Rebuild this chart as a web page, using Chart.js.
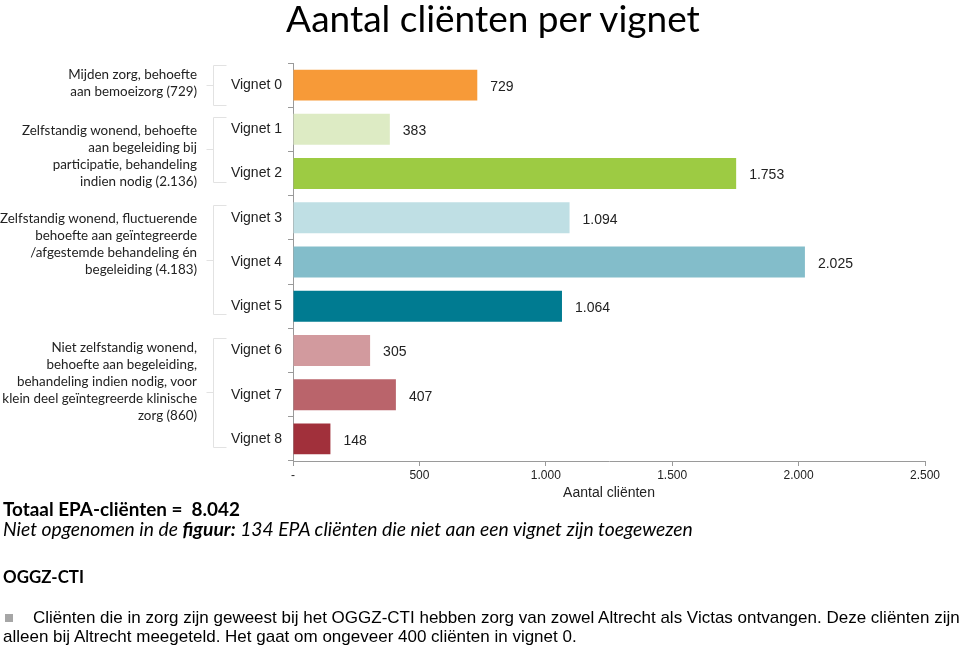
<!DOCTYPE html>
<html>
<head>
<meta charset="utf-8">
<script src="https://cdn.jsdelivr.net/npm/chart.js@4/dist/chart.umd.min.js"></script>
<style>
  html, body { margin: 0; padding: 0; background: #fff; }
  body { width: 960px; height: 648px; position: relative; overflow: hidden; font-family: "Liberation Sans", Arial, sans-serif; color: #000; }
  #wrap { position: absolute; left: 0; top: 0; width: 960px; height: 648px; }
  #title { position: absolute; left: 0; width: 986px; top: -5px; text-align: center; font-family: Lato, sans-serif; font-size: 37px; color: #000; white-space: nowrap; }
  .grp { position: absolute; right: 763px; text-align: right; font-family: Lato, sans-serif; font-size: 13.4px; line-height: 17px; color: #222; white-space: nowrap; }
  .note { position: absolute; left: 3px; font-family: Lato, sans-serif; white-space: nowrap; color: #000; line-height: 24px; }
  .bul { position: absolute; left: 3px; font-family: "Liberation Sans", Arial, sans-serif; font-size: 17px; line-height: 19px; white-space: nowrap; color: #000; }
  .sq { display: inline-block; width: 8px; height: 8px; background: #a6a6a6; margin: 0 20px 1px 2px; }
</style>
</head>
<body>
<div id="wrap"><canvas id="c" width="960" height="648"></canvas></div>
<div id="title">Aantal cliënten per vignet</div>

<div class="grp" style="top:66px">Mijden zorg, behoefte<br>aan bemoeizorg (729)</div>
<div class="grp" style="top:122px">Zelfstandig wonend, behoefte<br>aan begeleiding bij<br>participatie, behandeling<br>indien nodig (2.136)</div>
<div class="grp" style="top:210px">Zelfstandig wonend, fluctuerende<br>behoefte aan geïntegreerde<br>/afgestemde behandeling én<br>begeleiding (4.183)</div>
<div class="grp" style="top:339px">Niet zelfstandig wonend,<br>behoefte aan begeleiding,<br>behandeling indien nodig, voor<br>klein deel geïntegreerde klinische<br>zorg (860)</div>

<div class="note" style="top:497px;font-weight:bold;font-size:18.9px">Totaal EPA-cliënten = &nbsp;8.042</div>
<div class="note" style="top:517px;font-style:italic;font-size:19.3px">Niet opgenomen in de <b>figuur:</b> 134 EPA cliënten die niet aan een vignet zijn toegewezen</div>
<div class="note" style="top:565px;font-weight:bold;font-size:16.9px">OGGZ-CTI</div>
<div class="bul" style="top:608px"><span class="sq"></span>Cliënten die in zorg zijn geweest bij het OGGZ-CTI hebben zorg van zowel Altrecht als Victas ontvangen. Deze cliënten zijn<br>alleen bij Altrecht meegeteld. Het gaat om ongeveer 400 cliënten in vignet 0.</div>

<script>
// ---- data ----
const categories = ['Vignet 0','Vignet 1','Vignet 2','Vignet 3','Vignet 4','Vignet 5','Vignet 6','Vignet 7','Vignet 8'];
const clients = [729, 383, 1753, 1094, 2025, 1064, 305, 407, 148];
const barColors = ['#F79A38','#DDEBC4','#9DCB43','#BFDFE4','#83BDCA','#007B91','#D29A9E','#BA646B','#A1303B'];
const xTicks = [0, 500, 1000, 1500, 2000, 2500];
// groups of vignets (first index, last index)
const groups = [[0,0],[1,2],[3,5],[6,8]];

function fmt(v) {
  if (v === 0) return '-';
  return String(v).replace(/\B(?=(\d{3})+(?!\d))/g, '.');
}

const valueLabels = {
  id: 'valueLabels',
  afterDatasetsDraw(chart) {
    const ctx = chart.ctx;
    const meta = chart.getDatasetMeta(0);
    ctx.save();
    ctx.font = '14px "Liberation Sans", Arial, sans-serif';
    ctx.fillStyle = '#222';
    ctx.textAlign = 'left';
    ctx.textBaseline = 'middle';
    meta.data.forEach((bar, i) => {
      ctx.fillText(fmt(clients[i]), bar.x + 13, bar.y + 2);
    });
    ctx.restore();
  }
};

const brackets = {
  id: 'brackets',
  afterDraw(chart) {
    const ctx = chart.ctx;
    const y = chart.scales.y;
    const band = (y.getPixelForValue(1) - y.getPixelForValue(0));
    ctx.save();
    ctx.strokeStyle = '#e2e2e2';
    ctx.lineWidth = 1;
    groups.forEach(([a, b]) => {
      let top, bot;
      if (a === b) { top = y.getPixelForValue(a) - band * 0.45; bot = y.getPixelForValue(b) + band * 0.45; }
      else { top = y.getPixelForValue(a) - band * 0.28; bot = y.getPixelForValue(b) + band * 0.18; }
      const x = 213.5;
      const mid = (top + bot) / 2;
      ctx.beginPath();
      ctx.moveTo(x + 13, Math.round(top) + 0.5);
      ctx.lineTo(x, Math.round(top) + 0.5);
      ctx.lineTo(x, Math.round(bot) + 0.5);
      ctx.lineTo(x + 13, Math.round(bot) + 0.5);
      ctx.moveTo(x, Math.round(mid) + 0.5);
      ctx.lineTo(x - 7, Math.round(mid) + 0.5);
      ctx.stroke();
    });
    ctx.restore();
  }
};

new Chart(document.getElementById('c'), {
  type: 'bar',
  data: {
    labels: categories,
    datasets: [{
      data: clients,
      backgroundColor: barColors,
      borderWidth: 0,
      barPercentage: 0.7,
      categoryPercentage: 1.0
    }]
  },
  options: {
    indexAxis: 'y',
    responsive: false,
    animation: false,
    devicePixelRatio: 1,
    layout: { padding: { left: 200, right: 35, top: 63, bottom: 143 } },
    plugins: { legend: { display: false }, tooltip: { enabled: false }, title: { display: false } },
    scales: {
      x: {
        min: 0, max: 2500,
        afterFit(scale) { scale.height = 44; },
        afterBuildTicks(scale) { scale.ticks = xTicks.map(v => ({ value: v })); },
        ticks: {
          callback: (v) => fmt(v),
          font: { size: 12, family: '"Liberation Sans", Arial, sans-serif' },
          color: '#222',
          padding: 2,
          maxRotation: 0
        },
        grid: { drawOnChartArea: false, drawTicks: true, tickLength: 5, color: '#9a9a9a' },
        border: { color: '#9a9a9a' },
        title: { display: true, text: 'Aantal cliënten', font: { size: 14, family: '"Liberation Sans", Arial, sans-serif' }, color: '#222', padding: { top: 0, bottom: 3 } }
      },
      y: {
        afterFit(scale) { scale.width = 93; },
        ticks: { font: { size: 14, family: '"Liberation Sans", Arial, sans-serif' }, color: '#222', padding: 6 },
        grid: { offset: true, drawOnChartArea: false, drawTicks: true, tickLength: 5, color: '#9a9a9a' },
        border: { color: '#9a9a9a' }
      }
    }
  },
  plugins: [valueLabels, brackets]
});
</script>
</body>
</html>
